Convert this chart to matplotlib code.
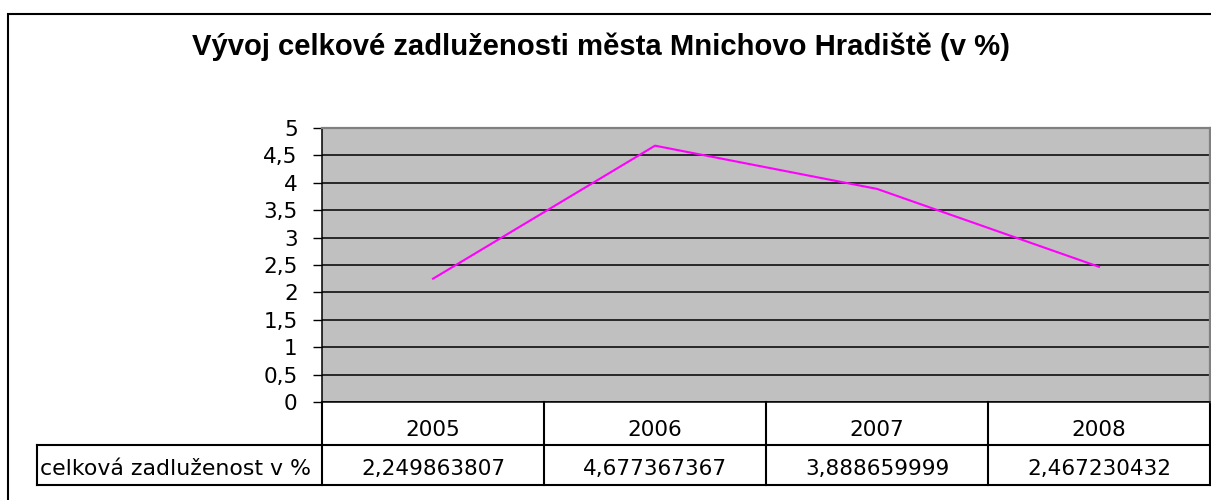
import matplotlib.pyplot as plt
from matplotlib.patches import Rectangle
from matplotlib.transforms import blended_transform_factory
from matplotlib.ticker import FuncFormatter, MultipleLocator

plt.rcParams['font.family'] = ['DejaVu Sans']

# data
years = ['2005', '2006', '2007', '2008']
debt_pct = [2.249863807, 4.677367367, 3.888659999, 2.467230432]
value_labels = ['2,249863807', '4,677367367', '3,888659999', '2,467230432']
series_name = 'celková zadluženost v %'
title = 'Vývoj celkové zadluženosti města Mnichovo Hradiště (v %)'

W, H = 1211, 500
fig = plt.figure(figsize=(W / 100, H / 100), dpi=100)


def fx(x):
    return x / W


def fy(y):
    return 1 - y / H


# outer chart frame (cut at the right and bottom edge of the picture)
fig.patches.append(Rectangle((fx(8), fy(520)), fx(1230 - 8), (520 - 14) / H,
                             transform=fig.transFigure, fill=False,
                             edgecolor='black', lw=1.5))

fig.text(fx(601), fy(55), title, ha='center', va='baseline',
         fontsize=21.1, fontweight='bold',
         family=['Liberation Sans', 'DejaVu Sans'])

left, top, right, bottom = 322, 128, 1210, 402
ax = fig.add_axes([fx(left), fy(bottom), (right - left) / W, (bottom - top) / H])
ax.set_facecolor('#C0C0C0')

x = list(range(len(years)))
ax.plot(x, debt_pct, color='#FF00FF', lw=1.5, zorder=3)

ax.set_xlim(-0.5, len(years) - 0.5)
ax.set_ylim(0, 5)
ax.yaxis.set_major_locator(MultipleLocator(0.5))
ax.yaxis.set_major_formatter(FuncFormatter(lambda v, p: f'{v:g}'.replace('.', ',')))
ax.grid(axis='y', color='black', lw=1.1)
ax.set_axisbelow(True)
ax.set_xticks([])
ax.tick_params(axis='y', direction='out', length=6.5, width=1, pad=11,
               labelsize=15.5, colors='black')

for side in ('top', 'right'):
    ax.spines[side].set_color('#808080')
    ax.spines[side].set_linewidth(1.6)
ax.spines['left'].set_linewidth(1.1)
ax.spines['bottom'].set_linewidth(1.1)

# data table below the axis
tr = blended_transform_factory(ax.transData, fig.transFigure)
ftr = fig.transFigure
row1 = 445
row2 = 485
lw = 1.5
edges = [i - 0.5 for i in range(len(years) + 1)]
for e in edges:
    ax.plot([e, e], [fy(bottom), fy(row2)], color='black', lw=lw,
            transform=tr, clip_on=False)
for yy in (row1, row2):
    fig.lines.append(plt.Line2D([fx(37), fx(right)], [fy(yy), fy(yy)],
                                color='black', lw=lw, transform=ftr))
fig.lines.append(plt.Line2D([fx(37), fx(37)], [fy(row1), fy(row2)],
                            color='black', lw=lw, transform=ftr))

for i, (yr, lab) in enumerate(zip(years, value_labels)):
    ax.text(i, fy(436), yr, transform=tr, ha='center',
            va='baseline', fontsize=15.5, clip_on=False)
    ax.text(i, fy(475), lab, transform=tr, ha='center',
            va='baseline', fontsize=15.5, clip_on=False)
fig.text(fx(40), fy(475), series_name, ha='left',
         va='baseline', fontsize=15.8)

fig.savefig('out.png', dpi=100)
